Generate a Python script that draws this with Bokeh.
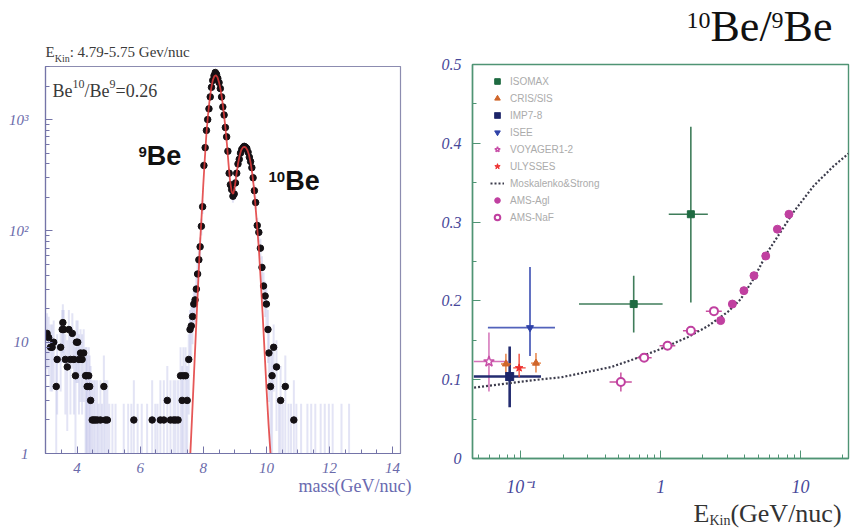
import math
from bokeh.plotting import figure
from bokeh.layouts import row, column
from bokeh.models import Range1d, FixedTicker, Label, Legend, LegendItem, Title
from bokeh.embed import file_html
from bokeh.resources import INLINE

# ---------------- left panel: reconstructed mass spectrum ----------------
mass_pts = [3.05, 3.10, 3.16, 3.21, 3.26, 3.34, 3.37, 3.48, 3.53, 3.55, 3.58, 3.63, 3.69,
            3.74, 3.79, 3.85, 3.90, 3.95, 3.98, 4.02, 4.06, 4.11, 4.16, 4.21, 4.27, 4.30,
            4.32, 4.37, 4.40, 4.43, 4.48, 4.53, 4.58, 4.64, 4.74, 4.85, 4.90, 4.96, 5.80,
            6.38, 6.64, 6.75, 6.86, 6.96, 7.06, 7.12, 7.20, 7.28, 7.33, 7.37, 7.44, 7.49,
            7.54, 7.58, 7.62, 7.66, 7.70, 7.74, 7.78, 7.82, 7.86, 7.90, 7.94, 7.98, 8.02,
            8.06, 8.10, 8.14, 8.18, 8.22, 8.26, 8.30, 8.34, 8.38, 8.42, 8.46, 8.50, 8.54,
            8.58, 8.62, 8.66, 8.70, 8.74, 8.78, 8.82, 8.86, 8.90, 8.94, 8.98, 9.02, 9.06,
            9.10, 9.14, 9.18, 9.22, 9.26, 9.30, 9.34, 9.38, 9.42, 9.46, 9.50, 9.54, 9.58,
            9.62, 9.66, 9.71, 9.76, 9.81, 9.86, 9.91, 9.96, 10.00, 10.05, 10.08, 10.13,
            10.18, 10.23, 10.32, 10.45, 10.60, 10.87]
count_pts = [12, 11, 9, 9, 10, 4, 7, 9, 13, 15, 13, 7, 6,
             13, 7, 12, 7, 5, 10, 10, 7, 8, 7, 8, 5, 5,
             4, 5, 4, 3, 2, 2, 2, 2, 2, 4, 2, 2, 2,
             2, 2, 2, 3, 2, 2, 2, 2, 5, 3, 5, 5, 3,
             7, 13, 14, 17, 22, 24, 30, 41, 55, 72, 110, 165, 387,
             560, 800, 1000, 1250, 1600, 1950, 2250, 2480, 2650, 2550, 2350, 2150, 1900,
             1600, 1300, 1100, 850, 700, 520, 330, 260, 235, 205, 215, 270, 330,
             400, 440, 500, 540, 560, 575, 565, 550, 510, 460, 420, 370, 300,
             230, 180, 112, 97, 70, 47, 32, 26, 22, 13, 8, 4,
             5, 9, 6, 3, 4, 2]
# bins holding a single event: only their error bars show above the axis
mass_single = [4.68, 4.79, 5.02, 5.12, 5.22, 5.48, 5.62, 5.72, 5.92, 6.05, 6.22, 6.48,
               6.55, 10.40, 10.52, 10.70, 10.78, 10.95, 11.10, 11.30, 11.42, 11.55, 11.72,
               11.85, 11.98, 12.10, 12.38, 12.62]
count_single = [1] * len(mass_single)

# two-peak fit (9Be + 10Be)
fit_mass = [7.59, 7.65, 7.71, 7.77, 7.83, 7.89, 7.95, 8.00, 8.05, 8.10, 8.15, 8.20, 8.25,
            8.30, 8.35, 8.40, 8.45, 8.50, 8.55, 8.60, 8.65, 8.70, 8.75, 8.80, 8.85, 8.90,
            8.95, 9.00, 9.05, 9.10, 9.15, 9.20, 9.25, 9.30, 9.35, 9.40, 9.45, 9.50, 9.55,
            9.60, 9.65, 9.70, 9.76, 9.82, 9.88, 9.94, 10.00, 10.07, 10.13]
fit_count = [1, 2.3, 5.5, 13, 30, 70, 140, 260, 450, 750, 1100, 1500, 1900,
             2250, 2450, 2500, 2400, 2150, 1850, 1500, 1150, 850, 600, 400, 280, 225,
             215, 250, 320, 400, 470, 530, 560, 570, 560, 530, 480, 410, 330,
             250, 175, 115, 70, 36, 18, 8.5, 4, 1.8, 1]

mass_ticks = [4, 6, 8, 10, 12, 14]
count_ticks = [1, 10, 100, 1000]
count_tick_labels = ["1", "10", "10²", "10³"]

# ---------------- right panel: 10Be/9Be ratio ----------------
isomax_E, isomax_Elo, isomax_Ehi = [0.64, 1.64], [0.26, 1.14], [1.03, 2.17]
isomax_R, isomax_Rlo, isomax_Rhi = [0.196, 0.310], [0.160, 0.198], [0.232, 0.421]

cris_E, cris_Elo, cris_Ehi = [0.078, 0.128], [0.072, 0.118], [0.085, 0.139]
cris_R, cris_Rlo, cris_Rhi = [0.120, 0.121], [0.108, 0.109], [0.133, 0.134]

imp_E, imp_Elo, imp_Ehi = [0.083], [0.046], [0.139]
imp_R, imp_Rlo, imp_Rhi = [0.104], [0.065], [0.142]

isee_E, isee_Elo, isee_Ehi = [0.116], [0.058], [0.175]
isee_R, isee_Rlo, isee_Rhi = [0.166], [0.130], [0.243]

voy_E, voy_Elo, voy_Ehi = [0.059], [0.046], [0.081]
voy_R, voy_Rlo, voy_Rhi = [0.123], [0.085], [0.160]

uly_E, uly_Elo, uly_Ehi = [0.097], [0.088], [0.108]
uly_R, uly_Rlo, uly_Rhi = [0.115], [0.103], [0.133]

ms_E = [0.0462, 0.139, 0.193, 0.44, 0.641, 1.0, 1.56, 2.17, 3.01, 3.72, 4.61, 5.80,
        8.92, 12.4, 17.2, 22.0]
ms_R = [0.090, 0.1005, 0.103, 0.116, 0.126, 0.139, 0.154, 0.168, 0.186, 0.202, 0.228,
        0.262, 0.313, 0.346, 0.371, 0.387]

agl_E = [2.68, 3.25, 3.93, 4.64, 5.63, 6.82, 8.25]
agl_R = [0.175, 0.196, 0.213, 0.232, 0.257, 0.291, 0.310]

naf_E, naf_Elo, naf_Ehi = [0.518, 0.760, 1.117, 1.64, 2.40], [0.43, 0.67, 0.98, 1.44, 2.10], [0.62, 0.86, 1.27, 1.87, 2.73]
naf_R = [0.097, 0.128, 0.143, 0.162, 0.187]
naf_Rlo = [0.085, 0.124, 0.139, 0.158, 0.183]
naf_Rhi = [0.109, 0.132, 0.147, 0.166, 0.191]

ratio_ticks = [0, 0.1, 0.2, 0.3, 0.4, 0.5]
energy_ticks = [0.1, 1, 10]
energy_tick_labels = ["10⁻¹", "1", "10"]

# ---------------- text helpers ----------------
SERIF = {" ": .25, ":": .278, ".": .25, "-": .333, "/": .278, "=": .564, "(": .333,
         ")": .333, "B": .667, "E": .611, "G": .722, "K": .722, "V": .722, "a": .444,
         "c": .444, "e": .444, "i": .278, "m": .778, "n": .5, "s": .389, "u": .5, "v": .5}
SANS_BOLD = {"B": .722, "e": .556}
BASELINE_FIX = 0.38   # Label places the alphabetic baseline this many ems low


def advance(text, size, table):
    default = 0.5 if table is SERIF else 0.556
    return size * sum(table.get(ch, default) for ch in text)


def make_label(x, y, txt, size, font, color, style="normal", align="left", dx=0, dy=0):
    return Label(x=x, y=y, x_offset=dx, y_offset=dy, text=txt, text_font=font,
                 text_font_size=f"{size}px", text_font_style=style, text_color=color,
                 text_baseline="alphabetic", text_align=align)


def no_align(f):
    # keep each figure's frame where its own borders put it
    if "frame_align" in f.properties():
        f.frame_align = False


def strip(width, height):
    """Blank figure whose data units are pixels, used for text around a panel."""
    f = figure(width=width, height=height, x_range=Range1d(0, width), y_range=Range1d(0, height),
               output_backend="svg", toolbar_location=None, x_axis_location=None,
               y_axis_location=None, min_border=0, min_border_left=0, min_border_right=0,
               min_border_top=0, min_border_bottom=0)
    f.grid.visible = False
    f.outline_line_color = None
    f.background_fill_color = "white"
    f.border_fill_color = "white"
    no_align(f)
    return f


def strip_run(f, page_x0, page_y0, x, pieces, font, color, table=SERIF, style="normal"):
    h = f.height
    for txt, size, base in pieces:
        y = h - (base - BASELINE_FIX * size - page_y0)
        f.add_layout(make_label(x - page_x0, y, txt, size, font, color, style))
        x += advance(txt, size, table)


def frame_run(fig, anchor, origin, x, pieces, font, color, table=SERIF, style="normal"):
    ax, ay = anchor
    ox, oy = origin
    for txt, size, base in pieces:
        fig.add_layout(make_label(ax, ay, txt, size, font, color, style,
                                  dx=x - ox, dy=oy - (base - BASELINE_FIX * size)))
        x += advance(txt, size, table)


# ---------------- left column ----------------
LEFT_AX = "#7474a8"
top_left = strip(438, 66)
strip_run(top_left, 0, 0, 45,
          [("E", 15, 57), ("Kin", 10, 62), (": 4.79-5.75 Gev/nuc", 15, 57)],
          "Liberation Serif", "#3a3a3a")

pl = figure(width=438, height=462, x_range=Range1d(3.0, 14.25), y_range=Range1d(1, 3000),
            y_axis_type="log", output_backend="svg", toolbar_location=None,
            min_border_left=45, min_border_right=38, min_border_top=0, min_border_bottom=75)
no_align(pl)
pl.grid.visible = False
pl.background_fill_color = "white"
pl.border_fill_color = "white"
pl.outline_line_color = "#8c8cb0"
pl.outline_line_width = 1.2

hi = [c + 1.8 * math.sqrt(c) for c in count_pts]
lo = [max(c - 1.8 * math.sqrt(c), 0.5) for c in count_pts]
pl.segment(x0=mass_pts, y0=lo, x1=mass_pts, y1=hi, line_color="#b8bce6", line_width=2,
           line_alpha=0.4)
hi1 = [c + 1.8 * math.sqrt(c) for c in count_single]
lo1 = [0.5 for _ in count_single]
pl.segment(x0=mass_single, y0=lo1, x1=mass_single, y1=hi1, line_color="#b8bce6",
           line_width=2, line_alpha=0.4)
pl.scatter(mass_pts, count_pts, size=6.5, color="#141014")
pl.line(fit_mass, fit_count, line_color="#e23a3a", line_width=1.8, line_alpha=0.85)

pl.xaxis.ticker = FixedTicker(ticks=mass_ticks, minor_ticks=[3 + 0.5 * i for i in range(23)])
pl.yaxis.ticker = FixedTicker(ticks=count_ticks,
                              minor_ticks=[k * 10 ** d for d in range(4) for k in range(2, 10)
                                           if k * 10 ** d <= 3000])
pl.yaxis.major_label_overrides = dict(zip(count_ticks, count_tick_labels))
for ax in (pl.xaxis[0], pl.yaxis[0]):
    ax.axis_line_color = LEFT_AX
    ax.axis_line_width = 1.2
    ax.major_tick_line_color = LEFT_AX
    ax.minor_tick_line_color = LEFT_AX
    ax.major_tick_in, ax.major_tick_out = 7, 0
    ax.minor_tick_in, ax.minor_tick_out = 4, 0
    ax.major_label_text_font = "Liberation Serif"
    ax.major_label_text_font_style = "italic"
    ax.major_label_text_font_size = "15px"
    ax.major_label_text_color = "#6a6aaa"
pl.yaxis.major_label_standoff = 17
pl.xaxis.major_label_standoff = 9

pl.add_layout(Title(text="mass(GeV/nuc)", align="right", offset=-11, standoff=0,
                    vertical_align="top", text_font="Liberation Serif",
                    text_font_size="18px", text_font_style="normal",
                    text_color="#6a6ab0"), "below")

# page position of the frame's lower-left corner (mass 3, count 1)
L_ANCHOR, L_ORIGIN = (3.0, 1.0), (45, 453)
frame_run(pl, L_ANCHOR, L_ORIGIN, 52,
          [("Be", 18, 97), ("10", 12, 88), ("/Be", 18, 97), ("9", 12, 88), ("=0.26", 18, 97)],
          "Liberation Serif", "#3a3a3a")
frame_run(pl, L_ANCHOR, L_ORIGIN, 138, [("9", 15, 157), ("Be", 27, 166)],
          "Liberation Sans", "#111111", table=SANS_BOLD, style="bold")
frame_run(pl, L_ANCHOR, L_ORIGIN, 268, [("10", 15, 182), ("Be", 27, 191)],
          "Liberation Sans", "#111111", table=SANS_BOLD, style="bold")

# ---------------- right column ----------------
GREEN = "#4f9474"
top_right = strip(414, 54)
strip_run(top_right, 438, 0, 686,
          [("10", 24, 29), ("Be/", 44, 43), ("9", 24, 29), ("Be", 44, 43)],
          "Liberation Serif", "#111111")

pr = figure(width=414, height=445, x_range=Range1d(0.045, 22), y_range=Range1d(0, 0.5),
            x_axis_type="log", output_backend="svg", toolbar_location=None,
            min_border_left=34, min_border_right=4, min_border_top=10, min_border_bottom=40)
no_align(pr)
pr.grid.visible = False
pr.background_fill_color = "white"
pr.border_fill_color = "white"
pr.outline_line_color = GREEN
pr.outline_line_width = 1.4

pr.xaxis.ticker = FixedTicker(ticks=energy_ticks,
                              minor_ticks=[k * 10 ** d for d in (-2, -1, 0, 1) for k in range(2, 10)
                                           if 0.045 <= k * 10 ** d <= 22])
pr.xaxis.major_label_overrides = dict(zip(energy_ticks, energy_tick_labels))
pr.yaxis.ticker = FixedTicker(ticks=ratio_ticks,
                              minor_ticks=[0.05, 0.15, 0.25, 0.35, 0.45])
pr.yaxis.major_label_overrides = {0: "0"}
for ax in (pr.xaxis[0], pr.yaxis[0]):
    ax.axis_line_color = GREEN
    ax.axis_line_width = 1.4
    ax.major_tick_line_color = GREEN
    ax.minor_tick_line_color = GREEN
    ax.major_tick_in, ax.major_tick_out = 8, 0
    ax.minor_tick_in, ax.minor_tick_out = 4, 0
    ax.major_label_text_font = "Liberation Serif"
    ax.major_label_text_font_style = "italic"
    ax.major_label_text_color = "#48489a"
pr.yaxis.major_label_text_font_size = "16px"
pr.xaxis.major_label_text_font_size = "18px"
pr.yaxis.major_label_standoff = 11
pr.xaxis.major_label_standoff = 18


def error_bars(E, Elo, Ehi, R, Rlo, Rhi, color, width):
    pr.segment(x0=Elo, y0=R, x1=Ehi, y1=R, line_color=color, line_width=width)
    pr.segment(x0=E, y0=Rlo, x1=E, y1=Rhi, line_color=color, line_width=width)


error_bars(isomax_E, isomax_Elo, isomax_Ehi, isomax_R, isomax_Rlo, isomax_Rhi, "#3f7d5a", 1.6)
error_bars(isee_E, isee_Elo, isee_Ehi, isee_R, isee_Rlo, isee_Rhi, "#5262bb", 1.8)
error_bars(voy_E, voy_Elo, voy_Ehi, voy_R, voy_Rlo, voy_Rhi, "#d472b8", 1.5)
error_bars(imp_E, imp_Elo, imp_Ehi, imp_R, imp_Rlo, imp_Rhi, "#232c70", 2.6)
error_bars(cris_E, cris_Elo, cris_Ehi, cris_R, cris_Rlo, cris_Rhi, "#e47a3a", 1.4)
error_bars(uly_E, uly_Elo, uly_Ehi, uly_R, uly_Rlo, uly_Rhi, "#f04a3a", 1.4)
error_bars(naf_E, naf_Elo, naf_Ehi, naf_R, naf_Rlo, naf_Rhi, "#c8509e", 1.5)

r_ms = pr.line(ms_E, ms_R, line_color="#3c3c4c", line_width=2.2, line_dash="2 2")
r_isomax = pr.scatter(isomax_E, isomax_R, marker="square", size=7, color="#1f6b42")
r_cris = pr.scatter(cris_E, cris_R, marker="triangle", size=7, color="#d0662a")
r_imp = pr.scatter(imp_E, imp_R, marker="square_x", size=8, fill_color="#1c2468",
                   line_color="#1c2468")
r_isee = pr.scatter(isee_E, isee_R, marker="inverted_triangle", size=7, color="#2f42a8")
r_voy = pr.scatter(voy_E, voy_R, marker="star", size=11, fill_color="white",
                   line_color="#c850a8", line_width=1.5)
r_uly = pr.scatter(uly_E, uly_R, marker="star", size=8, color="#ee2e2e")
r_agl = pr.scatter(agl_E, agl_R, marker="circle", size=8, color="#c040a0")
r_naf = pr.scatter(naf_E, naf_R, marker="circle", size=8, fill_color="white",
                   line_color="#c040a0", line_width=2)

legend = Legend(items=[
    LegendItem(label="ISOMAX", renderers=[r_isomax]),
    LegendItem(label="CRIS/SIS", renderers=[r_cris]),
    LegendItem(label="IMP7-8", renderers=[r_imp]),
    LegendItem(label="ISEE", renderers=[r_isee]),
    LegendItem(label="VOYAGER1-2", renderers=[r_voy]),
    LegendItem(label="ULYSSES", renderers=[r_uly]),
    LegendItem(label="Moskalenko&Strong", renderers=[r_ms]),
    LegendItem(label="AMS-Agl", renderers=[r_agl]),
    LegendItem(label="AMS-NaF", renderers=[r_naf]),
], location=(18, 234), orientation="vertical")
legend.background_fill_alpha = 0
legend.border_line_alpha = 0
legend.padding = 0
legend.margin = 0
legend.spacing = 3
legend.glyph_width = 14
legend.glyph_height = 14
legend.label_height = 14
legend.label_standoff = 6
legend.label_text_font = "Liberation Sans"
legend.label_text_font_size = "10px"
legend.label_text_color = "#ababab"
pr.add_layout(legend)

bottom_right = strip(414, 29)
strip_run(bottom_right, 438, 499, 693,
          [("E", 26, 523), ("Kin", 14, 525), (" (GeV/nuc)", 26, 523)],
          "Liberation Serif", "#333333")

out = row(column(top_left, pl), column(top_right, pr, bottom_right))
with open("out.html", "w") as fh:
    fh.write(file_html(out, INLINE))
